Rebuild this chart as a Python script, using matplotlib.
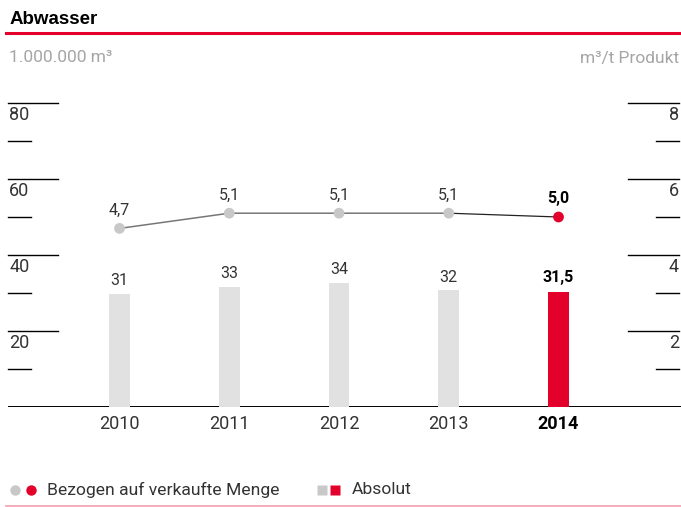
import matplotlib
matplotlib.use('Agg')
from matplotlib import pyplot as plt
from matplotlib.lines import Line2D

YEARS = ['2010', '2011', '2012', '2013', '2014']
ABSOLUT = [31, 33, 34, 32, 31.5]
ABSOLUT_LABELS = ['31', '33', '34', '32', '31,5']
BEZOGEN = [4.7, 5.1, 5.1, 5.1, 5.0]
BEZOGEN_LABELS = ['4,7', '5,1', '5,1', '5,1', '5,0']
LEFT_TICKS = [10, 20, 30, 40, 50, 60, 70, 80]
RIGHT_TICKS = [1, 2, 3, 4, 5, 6, 7, 8]

RED = '#e3002a'
GRAY_BAR = '#e1e1e1'
GRAY_DOT = '#c8c8c8'
GRAY_TXT = '#a5a5a5'
TXT = '#333333'

W, H = 681, 507
plt.rcParams['font.family'] = ['Roboto', 'DejaVu Sans']


def fx(px):
    return px / W


def fy(py):
    return 1 - py / H


fig = plt.figure(figsize=(W / 100, H / 100), dpi=100)
rect = [fx(8), fy(407), 673 / W, 304 / H]

# left scale (ticks), bars, line: three overlaid axes
ax_l = fig.add_axes(rect)
ax_b = fig.add_axes(rect, label='bars')
ax_r = fig.add_axes(rect, label='line')
for ax in (ax_l, ax_b, ax_r):
    ax.set_xlim(-1.016, 5.116)
    ax.set_axis_off()
    ax.patch.set_alpha(0)
ax_l.set_ylim(0, 80)
ax_b.set_ylim(0, 83.3)
ax_r.set_ylim(0, 8)

x = list(range(len(YEARS)))
colors = [GRAY_BAR] * (len(YEARS) - 1) + [RED]
ax_b.bar(x, ABSOLUT, width=0.19, color=colors, zorder=1)
for i, (v, lab) in enumerate(zip(ABSOLUT, ABSOLUT_LABELS)):
    last = i == len(YEARS) - 1
    ax_b.annotate(lab, (i, v), xytext=(0, 15 if last else 13), textcoords='offset pixels',
                  ha='center', va='center', fontsize=11.5,
                  weight='bold' if last else 'normal', color='black' if last else TXT)

ax_r.plot(x[:-1], BEZOGEN[:-1], color='#777777', lw=1.1, zorder=2)
ax_r.plot(x[-2:], BEZOGEN[-2:], color='#222222', lw=0.9, zorder=2)
ax_r.scatter(x, BEZOGEN, s=60, color=[GRAY_DOT] * (len(YEARS) - 1) + [RED], zorder=3, linewidths=0)
for i, (v, lab) in enumerate(zip(BEZOGEN, BEZOGEN_LABELS)):
    last = i == len(YEARS) - 1
    ax_r.annotate(lab, (i, v), xytext=(0, 19 if last else 18), textcoords='offset pixels',
                  ha='center', va='center', fontsize=11.5,
                  weight='bold' if last else 'normal', color='black' if last else TXT)

# axis tick lines
tl = ax_l.get_yaxis_transform()
for t in LEFT_TICKS:
    major = t % 20 == 0
    ax_l.plot([0, 0.074 if major else 0.034], [t, t], transform=tl, color='black', lw=1, clip_on=False)
    if major:
        ax_l.annotate(str(t), (0.002, t), xycoords=tl, xytext=(0, -12), textcoords='offset pixels',
                      ha='left', va='center', fontsize=13, color=TXT)
tr = ax_r.get_yaxis_transform()
for t in RIGHT_TICKS:
    major = t % 2 == 0
    ax_r.plot([0.921 if major else 0.963, 0.997], [t, t], transform=tr, color='black', lw=1, clip_on=False)
    if major:
        ax_r.annotate(str(t), (0.997, t), xycoords=tr, xytext=(0, -12), textcoords='offset pixels',
                      ha='right', va='center', fontsize=13, color=TXT)

ax_l.axhline(0, color='black', lw=1.4, zorder=4)
for i, y in enumerate(YEARS):
    last = i == len(YEARS) - 1
    ax_l.annotate(y, (i, 0), xytext=(0, -17), textcoords='offset pixels', ha='center', va='center',
                  fontsize=13, weight='bold' if last else 'normal', color='black' if last else TXT)

# header
fig.text(fx(10), fy(24), 'Abwasser', fontsize=13.5, weight='bold', family=['Liberation Sans', 'DejaVu Sans'],
         va='baseline', ha='left')
fig.add_artist(Line2D([fx(6), 1], [fy(33), fy(33)], color=RED, lw=2.2))
fig.text(fx(9), fy(58), '1.000.000 m³', fontsize=12.5, color=GRAY_TXT, va='center', ha='left')
fig.text(fx(679), fy(58), 'm³/t Produkt', fontsize=12.5, color=GRAY_TXT, va='center', ha='right')

# legend
ly = fy(490)
fig.add_artist(Line2D([fx(15)], [ly], marker='o', ms=7.5, color=GRAY_DOT, mec='none', ls='none'))
fig.add_artist(Line2D([fx(31)], [ly], marker='o', ms=7.5, color=RED, mec='none', ls='none'))
fig.text(fx(47), ly, 'Bezogen auf verkaufte Menge', fontsize=12.6, va='center', ha='left', color=TXT)
fig.add_artist(Line2D([fx(322)], [ly], marker='s', ms=7.2, color=GRAY_DOT, mec='none', ls='none'))
fig.add_artist(Line2D([fx(335)], [ly], marker='s', ms=7.2, color=RED, mec='none', ls='none'))
fig.text(fx(352), ly, 'Absolut', fontsize=12.6, va='center', ha='left', color=TXT)
fig.add_artist(Line2D([fx(6), 1], [fy(506), fy(506)], color='#f2a0b0', lw=1.2))

plt.savefig('out.png', dpi=100)
